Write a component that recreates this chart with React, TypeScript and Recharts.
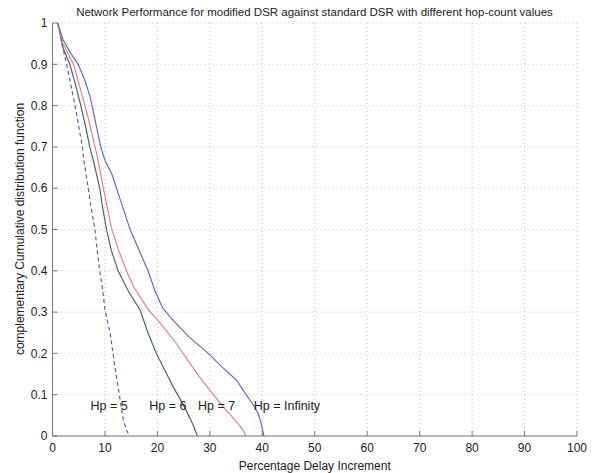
import React from 'react';
import { LineChart, Line, XAxis, YAxis, CartesianGrid, ReferenceDot } from 'recharts';

const xTicks = [0, 10, 20, 30, 40, 50, 60, 70, 80, 90, 100];
const yTicks = [0, 0.1, 0.2, 0.3, 0.4, 0.5, 0.6, 0.7, 0.8, 0.9, 1];

const hpInfX = [1, 2, 3.3, 4.9, 6.2, 7.2, 8.2, 9.2, 10, 11.3, 12.2, 13.5, 14.8, 16.5, 18.2, 19.5, 21, 23, 26, 29.7, 32.5, 35.1, 36.9, 38.3, 39.2, 39.8, 40.3];
const hpInfY = [1, 0.96, 0.93, 0.9, 0.86, 0.82, 0.76, 0.7, 0.667, 0.635, 0.6, 0.55, 0.5, 0.45, 0.4, 0.353, 0.31, 0.28, 0.24, 0.2, 0.165, 0.135, 0.1, 0.075, 0.055, 0.03, 0];

const hp7X = [1, 2, 4, 5.1, 6.2, 7.2, 8.1, 8.7, 9.7, 10.5, 11.3, 12.6, 14.1, 15.5, 16.7, 18.3, 19.8, 21.7, 23.6, 26.2, 28.2, 30, 32.5, 34, 35.4, 36.3, 36.9];
const hp7Y = [1, 0.95, 0.9, 0.85, 0.8, 0.75, 0.7, 0.667, 0.6, 0.55, 0.5, 0.45, 0.4, 0.36, 0.337, 0.305, 0.285, 0.255, 0.224, 0.176, 0.14, 0.111, 0.071, 0.05, 0.03, 0.015, 0];

const hp6X = [1, 2, 3.3, 4.4, 5.4, 6.3, 7.1, 7.8, 9, 9.6, 10.3, 11.2, 12.5, 14.5, 16.7, 18.2, 19.8, 21.4, 23, 24.4, 25.6, 26.8, 27.6];
const hp6Y = [1, 0.94, 0.9, 0.85, 0.8, 0.75, 0.7, 0.667, 0.6, 0.55, 0.5, 0.45, 0.4, 0.35, 0.305, 0.25, 0.2, 0.16, 0.119, 0.088, 0.059, 0.027, 0];

const hp5X = [1, 1.8, 2.7, 3.5, 4.3, 5, 5.7, 6, 6.8, 7.4, 8.1, 8.5, 9, 9.6, 10, 11, 11.9, 12.9, 13.5, 14, 14.6];
const hp5Y = [1, 0.95, 0.9, 0.85, 0.8, 0.75, 0.7, 0.667, 0.6, 0.55, 0.5, 0.45, 0.4, 0.35, 0.305, 0.248, 0.168, 0.087, 0.039, 0.019, 0];

const labelTexts = ['Hp = 5', 'Hp = 6', 'Hp = 7', 'Hp = Infinity'];
const labelX = [10.8, 22, 31.3, 44.7];
const labelY = [0.0725, 0.0725, 0.0725, 0.0725];

const zip = (xs: number[], ys: number[]) => xs.map((x, i) => ({ x, y: ys[i] }));

const dataInf = zip(hpInfX, hpInfY);
const data7 = zip(hp7X, hp7Y);
const data6 = zip(hp6X, hp6Y);
const data5 = zip(hp5X, hp5Y);

const FONT = '"Liberation Sans", Arial, sans-serif';
const AXIS = '#777';
const TICK = { fill: '#222', fontSize: 12, fontFamily: FONT };

export default function App() {
  return (
    <div style={{ position: 'absolute', left: 0, top: 0, width: 597, height: 473, background: '#fff' }}>
      <div
        style={{
          position: 'absolute',
          left: 52,
          width: 525,
          top: 4,
          textAlign: 'center',
          fontFamily: FONT,
          fontSize: 11.5,
          color: '#222',
          lineHeight: '16px',
          whiteSpace: 'nowrap',
        }}
      >
        Network Performance for modified DSR against standard DSR with different hop-count values
      </div>
      <LineChart width={597} height={473} margin={{ top: 23, right: 20, left: 0, bottom: 0 }}>
        <CartesianGrid stroke="#c4c4c4" strokeDasharray="1 3" />
        <XAxis
          type="number"
          dataKey="x"
          domain={[0, 100]}
          ticks={xTicks}
          allowDataOverflow
          height={37}
          tickSize={-5}
          tickMargin={12}
          stroke={AXIS}
          tick={TICK}
          label={{ value: 'Percentage Delay Increment', position: 'insideBottom', offset: 3, fill: '#222', fontSize: 12, fontFamily: FONT }}
        />
        <XAxis
          xAxisId="top"
          orientation="top"
          type="number"
          domain={[0, 100]}
          ticks={xTicks}
          height={0}
          tickSize={-5}
          tickFormatter={() => ''}
          stroke={AXIS}
        />
        <YAxis
          type="number"
          domain={[0, 1]}
          ticks={yTicks}
          width={52.5}
          tickSize={-5}
          tickMargin={10}
          stroke={AXIS}
          tick={TICK}
          tickFormatter={(v: number) => String(v)}
          label={{
            content: () => (
              <text
                x={20}
                y={229}
                transform="rotate(-90 20 229)"
                textAnchor="middle"
                dominantBaseline="central"
                fontSize={12}
                fontFamily={FONT}
                fill="#222"
              >
                complementary Cumulative distribution function
              </text>
            ),
          }}
        />
        <YAxis
          yAxisId="right"
          orientation="right"
          type="number"
          domain={[0, 1]}
          ticks={yTicks}
          width={0}
          tickSize={-5}
          tickFormatter={() => ''}
          stroke={AXIS}
        />
        <Line data={data5} dataKey="y" stroke="#5e5eb4" strokeWidth={1.2} strokeDasharray="4 3" dot={false} isAnimationActive={false} />
        <Line data={data6} dataKey="y" stroke="#4a6a60" strokeWidth={1.2} dot={false} isAnimationActive={false} />
        <Line data={data7} dataKey="y" stroke="#e0848a" strokeWidth={1.2} dot={false} isAnimationActive={false} />
        <Line data={dataInf} dataKey="y" stroke="#6a6ac2" strokeWidth={1.2} dot={false} isAnimationActive={false} />
        {labelTexts.map((t, i) => (
          <ReferenceDot
            key={t}
            x={labelX[i]}
            y={labelY[i]}
            r={0}
            fill="none"
            stroke="none"
            label={{ value: t, position: 'center', fill: '#222', fontSize: 12.5, fontFamily: FONT }}
          />
        ))}
      </LineChart>
    </div>
  );
}
